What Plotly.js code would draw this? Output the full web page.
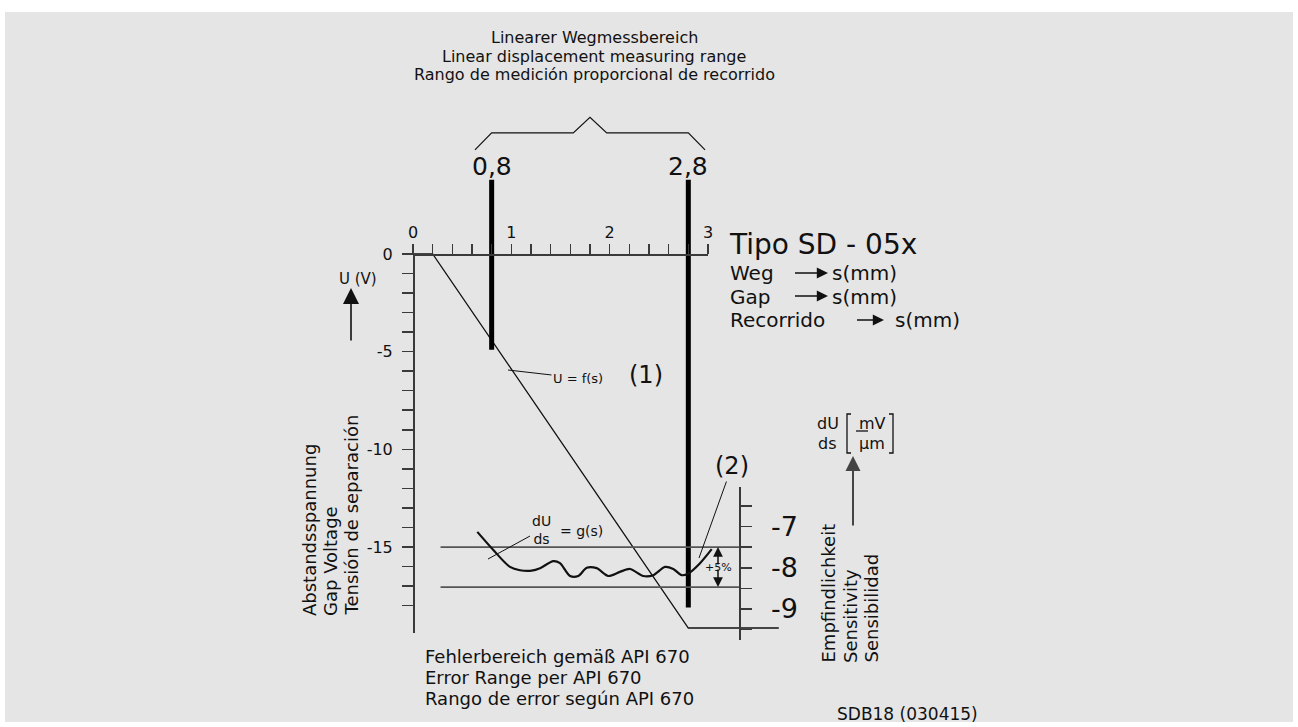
<!DOCTYPE html>
<html>
<head>
<meta charset="utf-8">
<script src="https://cdn.plot.ly/plotly-3.0.1.min.js"></script>
<style>html,body{margin:0;padding:0;background:#fff;}</style>
</head>
<body>
<div id="chart" style="width:1298px;height:727px;"></div>
<script>
// ---------------- DATA ----------------
// Gap voltage U = f(s)
const gapS = [0, 0.2, 2.8, 3.72];          // displacement s (mm)
const gapU = [0, 0, -19.15, -19.15];       // gap voltage U (V)
// Sensitivity dU/ds = g(s)
const sensS = [0.654, 0.817, 0.986, 1.088, 1.207, 1.292, 1.427, 1.495, 1.597, 1.681, 1.767, 1.868,
               1.986, 2.105, 2.207, 2.342, 2.444, 2.563, 2.647, 2.733, 2.800, 2.919, 3.038];
const sensV = [-7.13, -7.57, -7.98, -8.06, -8.07, -8.01, -7.84, -7.89, -8.20, -8.20, -8.00, -8.01,
               -8.20, -8.10, -8.03, -8.20, -8.18, -7.98, -8.03, -8.18, -8.14, -7.89, -7.55];
// Linear measuring range (mm)
const rangeStart = 0.8;
const rangeEnd = 2.8;
// Error band per API 670 (mV/um)
const bandLimits = [-7.5, -8.47];
// Tick labels
const sTickVals = [0, 1, 2, 3];
const uTickVals = [0, -5, -10, -15];
const uTickText = ['0', '-5', '-10', '-15'];
const gTickVals = [-7, -8, -9];
const gTickText = ['-7', '-8', '-9'];

// ---------------- LAYOUT GEOMETRY ----------------
const W = 1298, H = 727, mL = 5, mR = 5, mT = 12, mB = 5;
const pw = W - mL - mR, ph = H - mT - mB;
const X = px => (px - mL) / pw;
const Y = py => (H - mB - py) / ph;
const FONT = 'DejaVu Sans, Liberation Sans, Arial, sans-serif';
const INK = '#111111';
const AX = '#3a3a3a';

// main (hidden) scales: s in mm, U in V
const sZeroPx = 413, pxPerMm = 98.33, uZeroPx = 254, pxPerV = 19.53;
const xMain = [(mL - sZeroPx) / pxPerMm, (W - mR - sZeroPx) / pxPerMm];
const yMain = [-(H - mB - uZeroPx) / pxPerV, (uZeroPx - mT) / pxPerV];

// marker bars and bracket (layout decoration positions)
const barTop = 3.8;
const barBottoms = [-4.9, -18.1];
const brLow = 5.33, brMid = 6.2, brPeak = 7.0, brDx = 0.17;
const rangeMid = (rangeStart + rangeEnd) / 2;
const bandX = [0.28, 3.315];

const fmt = v => String(v).replace('.', ',');

const traces = [
  // bracket over linear range
  {x: [rangeStart - brDx, rangeStart, rangeMid - brDx, rangeMid, rangeMid + brDx, rangeEnd, rangeEnd + brDx],
   y: [brLow, brMid, brMid, brPeak, brMid, brMid, brLow],
   mode: 'lines', line: {color: INK, width: 1.2}, hoverinfo: 'skip', showlegend: false},
  // U = f(s)
  {x: gapS, y: gapU, mode: 'lines', line: {color: INK, width: 1.3}, name: 'U = f(s)', showlegend: false},
  // error band lines
  {x: bandX, y: [bandLimits[0], bandLimits[0]], xaxis: 'x', yaxis: 'y3', mode: 'lines',
   line: {color: '#555', width: 1.8}, hoverinfo: 'skip', showlegend: false},
  {x: bandX, y: [bandLimits[1], bandLimits[1]], xaxis: 'x', yaxis: 'y3', mode: 'lines',
   line: {color: '#555', width: 1.8}, hoverinfo: 'skip', showlegend: false},
  // dU/ds = g(s)
  {x: sensS, y: sensV, xaxis: 'x', yaxis: 'y3', mode: 'lines',
   line: {color: INK, width: 2.2, shape: 'spline', smoothing: 0.8}, name: 'dU/ds', showlegend: false},
  // range marker bars
  {x: [rangeStart, rangeStart], y: [barTop, barBottoms[0]], mode: 'lines',
   line: {color: '#000', width: 5}, hoverinfo: 'skip', showlegend: false},
  {x: [rangeEnd, rangeEnd], y: [barTop, barBottoms[1]], mode: 'lines',
   line: {color: '#000', width: 5}, hoverinfo: 'skip', showlegend: false},
  // anchor trace for scale axes
  {x: [0], y: [0], xaxis: 'x2', yaxis: 'y2', mode: 'markers', marker: {opacity: 0},
   hoverinfo: 'skip', showlegend: false}
];

function txt(text, xpx, ypx, size, extra) {
  return Object.assign({text: text, xref: 'paper', yref: 'paper', x: X(xpx), y: Y(ypx),
    showarrow: false, font: {family: FONT, size: size, color: INK}, xanchor: 'center', yanchor: 'middle'}, extra || {});
}
function arrow(tipX, tipY, tailX, tailY, opts) {
  return Object.assign({text: ' ', xref: 'paper', yref: 'paper', x: X(tipX), y: Y(tipY),
    ax: tailX - tipX, ay: tailY - tipY, showarrow: true, arrowhead: 2, arrowsize: 1.3,
    arrowwidth: 1.5, arrowcolor: INK, standoff: 0, font: {size: 2}}, opts || {});
}

const annotations = [
  txt('Linearer Wegmessbereich', 594, 38, 16),
  txt('Linear displacement measuring range', 594, 56, 16),
  txt('Rango de medición proporcional de recorrido', 594, 74, 16),
  Object.assign(txt(fmt(rangeStart), 0, 166, 25), {xref: 'x', x: rangeStart}),
  Object.assign(txt(fmt(rangeEnd), 0, 166, 25), {xref: 'x', x: rangeEnd}),

  txt('Tipo SD - 05x', 727, 244, 28, {xanchor: 'left'}),
  txt('Weg', 728, 273, 20, {xanchor: 'left'}),
  txt('s(mm)', 830, 273, 20, {xanchor: 'left'}),
  txt('Gap', 728, 296.5, 20, {xanchor: 'left'}),
  txt('s(mm)', 830, 296.5, 20, {xanchor: 'left'}),
  txt('Recorrido', 728, 320, 20, {xanchor: 'left'}),
  txt('s(mm)', 893, 320, 20, {xanchor: 'left'}),
  arrow(828, 273, 793, 273, {arrowwidth: 1.6, arrowsize: 1.4}),
  arrow(828, 296, 793, 296, {arrowwidth: 1.6, arrowsize: 1.4}),
  arrow(884, 320, 855, 320, {arrowwidth: 1.6, arrowsize: 1.4}),

  txt('U (V)', 358, 279, 15),
  arrow(351, 288, 351, 343, {arrowwidth: 1.6, arrowsize: 2}),
  txt('Abstandsspannung', 309, 618, 18, {textangle: -90, yanchor: 'bottom'}),
  txt('Gap Voltage', 330, 618, 18, {textangle: -90, yanchor: 'bottom'}),
  txt('Tensión de separación', 351, 618, 18, {textangle: -90, yanchor: 'bottom'}),

  Object.assign(txt('U = f(s)', 578, 378, 13), {showarrow: true, x: X(508), y: Y(370), ax: 70, ay: 8,
    arrowhead: 0, arrowwidth: 1, arrowcolor: INK}),
  txt('(1)', 646, 375, 24),
  Object.assign(txt('(2)', 732, 466, 24), {showarrow: true, x: X(699), y: Y(558), ax: 33, ay: -92,
    arrowhead: 0, arrowwidth: 1, arrowcolor: INK}),
  Object.assign(txt('dU<br>ds', 541, 530, 14), {showarrow: true, x: X(488), y: Y(559), ax: 53, ay: -29,
    arrowhead: 0, arrowwidth: 1, arrowcolor: INK}),
  txt('= g(s)', 581, 531, 14),
  txt('+5%', 718, 567, 11),
  arrow(718, 547, 718, 567, {arrowwidth: 1.5, arrowsize: 1.3, standoff: 0}),
  arrow(718, 587, 718, 567, {arrowwidth: 1.5, arrowsize: 1.3, standoff: 0}),

  txt('dU', 828, 423, 16),
  txt('ds', 827, 443, 16),
  txt('mV', 872, 423, 16),
  txt('µm', 872, 443, 16),
  arrow(853, 456, 853, 528, {arrowwidth: 2, arrowsize: 1.5, arrowcolor: '#444'}),
  txt('Empfindlichkeit', 828, 665, 18, {textangle: -90, yanchor: 'bottom'}),
  txt('Sensitivity', 850, 665, 18, {textangle: -90, yanchor: 'bottom'}),
  txt('Sensibilidad', 871, 665, 18, {textangle: -90, yanchor: 'bottom'}),

  txt('Fehlerbereich gemäß API 670', 423, 656, 18, {xanchor: 'left'}),
  txt('Error Range per API 670', 423, 677, 18, {xanchor: 'left'}),
  txt('Rango de error según API 670', 423, 698, 18, {xanchor: 'left'}),
  txt('SDB18 (030415)', 835, 714, 17, {xanchor: 'left'})
];

const P = (pts) => 'M ' + pts.map(p => X(p[0]) + ' ' + Y(p[1])).join(' L ');
const shapes = [
  // gray drawing area
  {type: 'rect', xref: 'paper', yref: 'paper', x0: 0, x1: 1, y0: 0, y1: 1, layer: 'below',
   fillcolor: '#e5e5e5', line: {width: 0}},
  {type: 'path', xref: 'paper', yref: 'paper', path: P([[851, 414], [847, 414], [847, 453], [851, 453]]),
   line: {color: INK, width: 1.3}},
  {type: 'path', xref: 'paper', yref: 'paper', path: P([[889, 414], [893, 414], [893, 453], [889, 453]]),
   line: {color: INK, width: 1.3}},
  {type: 'line', xref: 'paper', yref: 'paper', x0: X(856), x1: X(868), y0: Y(431), y1: Y(431),
   line: {color: INK, width: 1.3}}
];

const uMinor = [];
for (let v = -1; v >= -18; v--) uMinor.push(v);

const layout = {
  width: W, height: H,
  margin: {l: mL, r: mR, t: mT, b: mB, pad: 0},
  paper_bgcolor: '#ffffff',
  plot_bgcolor: 'rgba(0,0,0,0)',
  font: {family: FONT, color: INK, size: 16},
  showlegend: false,
  xaxis: {range: xMain, visible: false, fixedrange: true},
  yaxis: {range: yMain, visible: false, fixedrange: true},
  xaxis2: {
    domain: [X(413), X(708)], range: [0, 3], anchor: 'free', position: Y(254), side: 'top',
    showline: true, linecolor: AX, linewidth: 1.5, showgrid: false, zeroline: false,
    tickmode: 'array', tickvals: sTickVals, ticktext: sTickVals.map(String),
    ticks: 'outside', ticklen: 10, tickwidth: 1.5, tickcolor: AX,
    tickfont: {family: FONT, size: 16, color: INK},
    minor: {tickmode: 'linear', tick0: 0, dtick: 0.2, ticks: 'outside', ticklen: 10, tickwidth: 1.5, tickcolor: AX},
    fixedrange: true
  },
  yaxis2: {
    domain: [Y(633), Y(254)], range: [-(633 - 254) / pxPerV, 0], anchor: 'free', position: X(413), side: 'left',
    showline: true, linecolor: AX, linewidth: 1.5, showgrid: false, zeroline: false,
    tickmode: 'array', tickvals: uTickVals, ticktext: uTickText,
    ticks: 'outside', ticklen: 11, tickwidth: 1.5, tickcolor: AX, ticklabelstandoff: 6,
    tickfont: {family: FONT, size: 16, color: INK},
    minor: {tickmode: 'array', tickvals: uMinor, ticks: 'outside', ticklen: 11, tickwidth: 1.5, tickcolor: AX},
    fixedrange: true
  },
  yaxis3: {
    domain: [Y(640), Y(487)], range: [-9 - (640 - 609) / 41.25, -7 + (526.5 - 487) / 41.25],
    anchor: 'free', position: X(739), side: 'right',
    showline: true, linecolor: AX, linewidth: 1.5, showgrid: false, zeroline: false,
    tickmode: 'array', tickvals: gTickVals, ticktext: gTickText,
    ticks: 'outside', ticklen: 11, tickwidth: 1.5, tickcolor: AX, ticklabelstandoff: 14,
    tickfont: {family: FONT, size: 27, color: INK},
    minor: {tickmode: 'linear', tick0: -6.5, dtick: 0.5, ticks: 'outside', ticklen: 11, tickwidth: 1.5, tickcolor: AX},
    fixedrange: true
  },
  annotations: annotations,
  shapes: shapes
};

Plotly.newPlot('chart', traces, layout, {displayModeBar: false, staticPlot: true});
</script>
</body>
</html>
